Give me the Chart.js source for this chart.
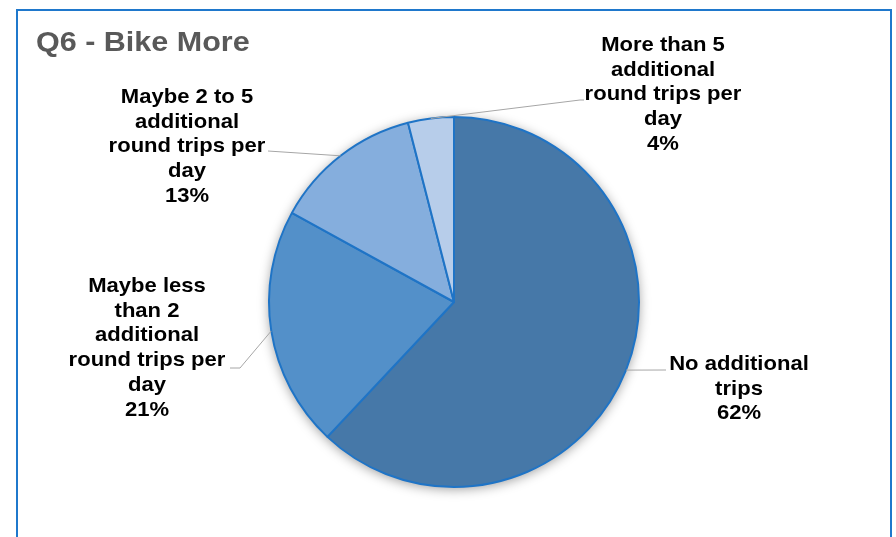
<!DOCTYPE html>
<html>
<head>
<meta charset="utf-8">
<script src="https://cdn.jsdelivr.net/npm/chart.js@4.4.1/dist/chart.umd.min.js"></script>
<style>
  html, body { margin: 0; padding: 0; background: #fff; }
  canvas { display: block; }
</style>
</head>
<body>
<canvas id="pie" width="896" height="537"></canvas>
<script>
const categories = [
  ['No additional', 'trips'],
  ['Maybe less', 'than 2', 'additional', 'round trips per', 'day'],
  ['Maybe 2 to 5', 'additional', 'round trips per', 'day'],
  ['More than 5', 'additional', 'round trips per', 'day']
];
const shares = [62, 21, 13, 4];
const sliceColors = ['#4678a8', '#5390c9', '#85aedd', '#b7cdea'];

// where each label block sits and how its leader line bends (layout only)
const labelLayout = [
  { x: 739, base: 370, path: [[666, 370]] },
  { x: 147, base: 292, path: [[240, 368], [230, 368]] },
  { x: 187, base: 103, path: [[268, 151]] },
  { x: 663, base: 51, path: [[580, 100], [584, 100]] }
];

function stretchText(ctx, text, x, y, sx) {
  ctx.save();
  ctx.translate(x, y);
  ctx.scale(sx, 1);
  ctx.fillText(text, 0, 0);
  ctx.restore();
}

const decorPlugin = {
  id: 'decor',
  beforeDraw(chart) {
    const ctx = chart.ctx;
    ctx.save();
    ctx.strokeStyle = '#1f78cc';
    ctx.lineWidth = 2;
    ctx.strokeRect(17, 10, 874, 620);
    ctx.fillStyle = '#595959';
    ctx.font = 'bold 27px "Liberation Sans", Arial, sans-serif';
    ctx.textAlign = 'left';
    ctx.textBaseline = 'alphabetic';
    stretchText(ctx, 'Q6 - Bike More', 36, 51, 1.13);
    ctx.restore();
  },
  beforeDatasetsDraw(chart) {
    // soft shadow behind the whole pie
    const arc = chart.getDatasetMeta(0).data[0];
    if (!arc) return;
    const ctx = chart.ctx;
    ctx.save();
    ctx.shadowColor = 'rgba(0,0,0,0.4)';
    ctx.shadowBlur = 12;
    ctx.shadowOffsetY = 2;
    ctx.fillStyle = '#4678a8';
    ctx.beginPath();
    ctx.arc(arc.x, arc.y, arc.outerRadius, 0, Math.PI * 2);
    ctx.fill();
    ctx.restore();
  },
  afterDatasetsDraw(chart) {
    const ctx = chart.ctx;
    const meta = chart.getDatasetMeta(0);
    ctx.save();
    meta.data.forEach((arc, i) => {
      const mid = (arc.startAngle + arc.endAngle) / 2;
      const ax = arc.x + Math.cos(mid) * arc.outerRadius;
      const ay = arc.y + Math.sin(mid) * arc.outerRadius;
      const lay = labelLayout[i];
      ctx.strokeStyle = '#a6a6a6';
      ctx.lineWidth = 1;
      ctx.beginPath();
      ctx.moveTo(ax, ay);
      lay.path.forEach(p => ctx.lineTo(p[0], p[1]));
      ctx.stroke();

      const lines = categories[i].concat([shares[i] + '%']);
      ctx.fillStyle = '#000';
      ctx.font = 'bold 21px "Liberation Sans", Arial, sans-serif';
      ctx.textAlign = 'center';
      ctx.textBaseline = 'alphabetic';
      lines.forEach((t, k) => stretchText(ctx, t, lay.x, lay.base + k * 24.7, 1.05));
    });
    ctx.restore();
  }
};

new Chart(document.getElementById('pie'), {
  type: 'pie',
  data: {
    labels: categories.map(c => c.join(' ')),
    datasets: [{
      data: shares,
      backgroundColor: sliceColors,
      borderColor: '#1f74c6',
      borderWidth: 2
    }]
  },
  options: {
    responsive: false,
    animation: false,
    layout: { padding: { left: 268, right: 256, top: 116, bottom: 49 } },
    plugins: {
      legend: { display: false },
      tooltip: { enabled: false },
      title: { display: false }
    }
  },
  plugins: [decorPlugin]
});
</script>
</body>
</html>
